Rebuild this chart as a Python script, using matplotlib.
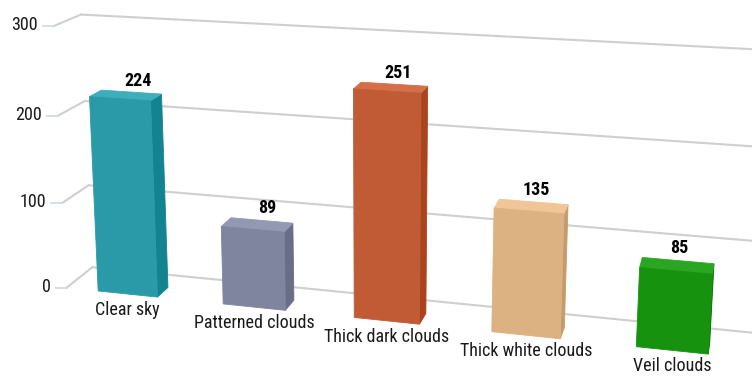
import numpy as np
import matplotlib
matplotlib.use("Agg")
import matplotlib.pyplot as plt
from matplotlib import font_manager, colors as mcolors

# Chart data
categories = ["Clear sky", "Patterned clouds", "Thick dark clouds",
              "Thick white clouds", "Veil clouds"]
counts = [224, 89, 251, 135, 85]
bar_colors = ["#2a9aa8", "#7f849f", "#c05b36", "#dcb282", "#16920f"]
y_ticks = [0, 100, 200, 300]

# Perspective camera: maps (category position, value, depth) -> pixel (u, v)
VIEW = np.array([
    [120.557, -0.051003, 29.4658, 127.646],
    [5.98079, -0.885531, -10.6963, 294.009],
    [-0.0231428, -0.000135299, 0.037386, 1.0],
])
X_MIN, X_MAX = -0.5, 4.56     # category axis extent
BAR_WIDTH = 0.48              # in category units
BAR_DEPTH = 0.45              # fraction of the wall depth


def project(x, y, z):
    h = VIEW @ np.array([x, y, z, 1.0])
    return h[0] / h[2], h[1] / h[2]


def pick_font(prefs):
    installed = {f.name for f in font_manager.fontManager.ttflist}
    for name in prefs:
        if name in installed:
            return name
    return "DejaVu Sans"


font = pick_font(["Liberation Sans Narrow", "Arial Narrow", "Roboto Condensed",
                  "Archivo Narrow", "Liberation Sans"])
plt.rcParams["font.family"] = [font, "DejaVu Sans"]


def shade(color, amount):
    r, g, b = mcolors.to_rgb(color)
    return tuple(min(1, max(0, c + amount)) for c in (r, g, b))


fig = plt.figure(figsize=(7.52, 3.77), dpi=100)
ax = fig.add_axes([0, 0, 1, 1])
ax.set_xlim(0, 752)
ax.set_ylim(377, 0)
ax.axis("off")

grid_kw = dict(color="#cfcfcf", lw=1.5, solid_capstyle="round", zorder=1)

# Back wall and side wall grid lines, y-axis ticks and labels
for v in y_ticks:
    a = project(X_MIN, v, 1)
    b = project(X_MAX, v, 1)
    ax.plot([a[0], b[0]], [a[1], b[1]], **grid_kw)
    f = project(X_MIN, v, 0)
    ax.plot([f[0], a[0]], [f[1], a[1]], **grid_kw)
    ax.plot([f[0] - 11, f[0]], [f[1], f[1]], color="#ccd6eb", lw=1.2, zorder=1)
    ax.text(f[0] - 16, f[1] - 1, str(v), ha="right", va="center",
            fontsize=13, color="#1a1a1a", zorder=5)

# 3D columns
for i, (val, col) in enumerate(zip(counts, bar_colors)):
    x0, x1 = i - BAR_WIDTH / 2, i + BAR_WIDTH / 2
    d = BAR_DEPTH
    side = [project(x1, 0, 0), project(x1, 0, d), project(x1, val, d), project(x1, val, 0)]
    top = [project(x0, val, 0), project(x1, val, 0), project(x1, val, d), project(x0, val, d)]
    front = [project(x0, 0, 0), project(x1, 0, 0), project(x1, val, 0), project(x0, val, 0)]
    for poly, c in ((side, shade(col, -0.09)), (top, shade(col, 0.08)), (front, col)):
        ax.add_patch(plt.Polygon(poly, closed=True, facecolor=c, edgecolor=c,
                                 lw=0.6, zorder=3))
    # value label above the column
    lx, ly = project(i, val, 1.6 * d)
    ax.text(lx, ly - 7, str(val), ha="center", va="center", fontsize=13,
            fontweight="bold", color="#000000", zorder=6)
    # category label below the column
    cx, cy = project(i, 0, 0)
    ax.text(cx, cy + 16, categories[i], ha="center", va="center", fontsize=13,
            color="#1a1a1a", zorder=6)

fig.savefig("out.png", dpi=100)
